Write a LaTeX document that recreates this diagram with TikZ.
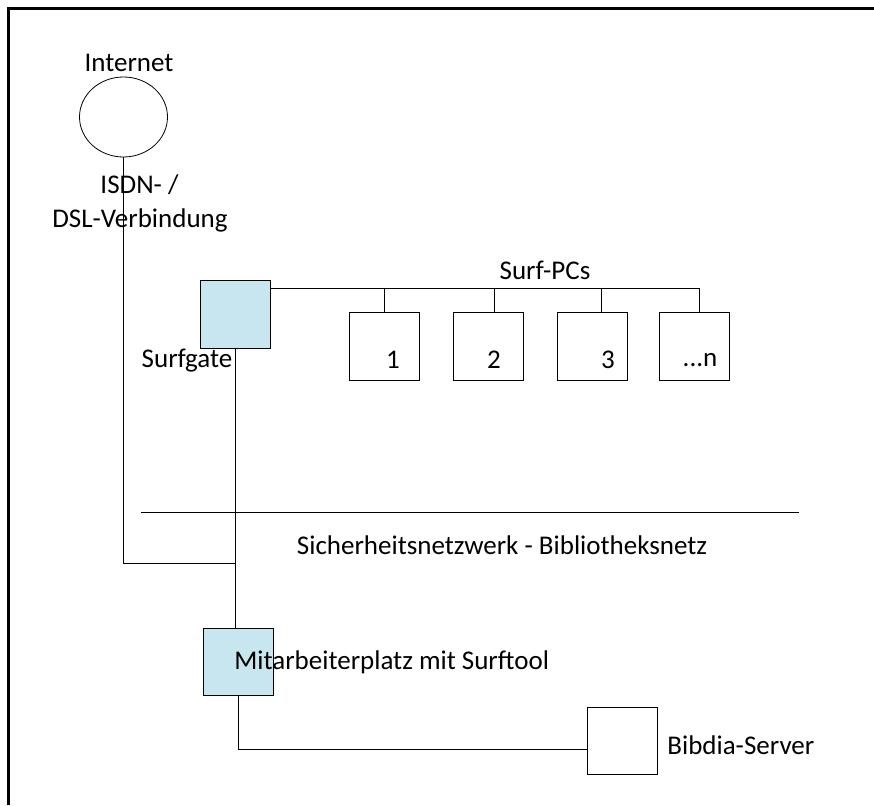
\documentclass[tikz,border=0pt]{standalone}
\usepackage{fontspec}
\setmainfont{Carlito}
\usetikzlibrary{shapes.geometric}
\definecolor{gatefill}{HTML}{C8E6EF}
\begin{document}
\begin{tikzpicture}[x=1pt,y=-1pt,line width=0.8pt,
        box/.style={draw,minimum width=70pt,minimum height=68pt,inner sep=0pt},
        lbl/.style={font=\fontsize{27}{31}\selectfont,inner sep=0pt}]
        \useasboundingbox (0,0) rectangle (874,805);
        \draw[line width=2.5pt] (8.5,805) -- (8.5,8.5) -- (874,8.5);
        % Internet
        \node (inet) at (123.5,117)[draw,ellipse,minimum width=88pt,minimum height=80pt]{};
        \node (inetlbl) at (129,63)[lbl]{Internet};
        \node (isdn) at (139.5,185)[lbl]{ISDN- /};
        \node (dsl) at (140,220)[lbl]{DSL-Verbindung};
        % Surfgate und Surf-PCs
        \node (gate) at (235,314)[box,fill=gatefill]{};
        \node (gatelbl) at (187,361)[lbl]{Surfgate};
        \node (pcslbl) at (545,270)[lbl]{Surf-PCs};
        \coordinate (busend) at (700,288);
        \draw (gate.east |- busend) -- (busend);
        \foreach \n/\x/\d/\tx/\t in {1/384/0/393/1, 2/488.5/5.5/494/2, 3/592.5/8.5/608/3, 4/694/5/700/{...n}}{
            \node (pc\n) at (\x,346)[box]{};
            \node (pc\n lbl) at (\tx,360)[lbl]{\t};
            \draw ([xshift=\d pt]pc\n.north) -- ([xshift=\d pt]pc\n.north |- busend);
        }
        % Sicherheitsnetzwerk
        \coordinate (netl) at (141,512);
        \coordinate (netr) at (799,512);
        \draw (netl) -- (netr);
        \node (netlbl) at (502,545)[lbl]{Sicherheitsnetzwerk - Bibliotheksnetz};
        % Mitarbeiterplatz und Server
        \node (staff) at (238,661.5)[box,minimum height=67pt,fill=gatefill]{};
        \node (server) at (622,740.5)[box,minimum height=67pt]{};
        \coordinate (join) at (235,563);
        \draw (inet.south) |- (join);
        \draw (gate.south) -- (gate.south |- staff.north);
        \draw (staff.south) |- ([yshift=-8.5pt]server.west);
        \node (stafflbl) at (234,662)[lbl,anchor=west]{Mitarbeiterplatz mit Surftool};
        \node (serverlbl) at (667,745)[lbl,anchor=west]{Bibdia-Server};
    \end{tikzpicture}
\end{document}
